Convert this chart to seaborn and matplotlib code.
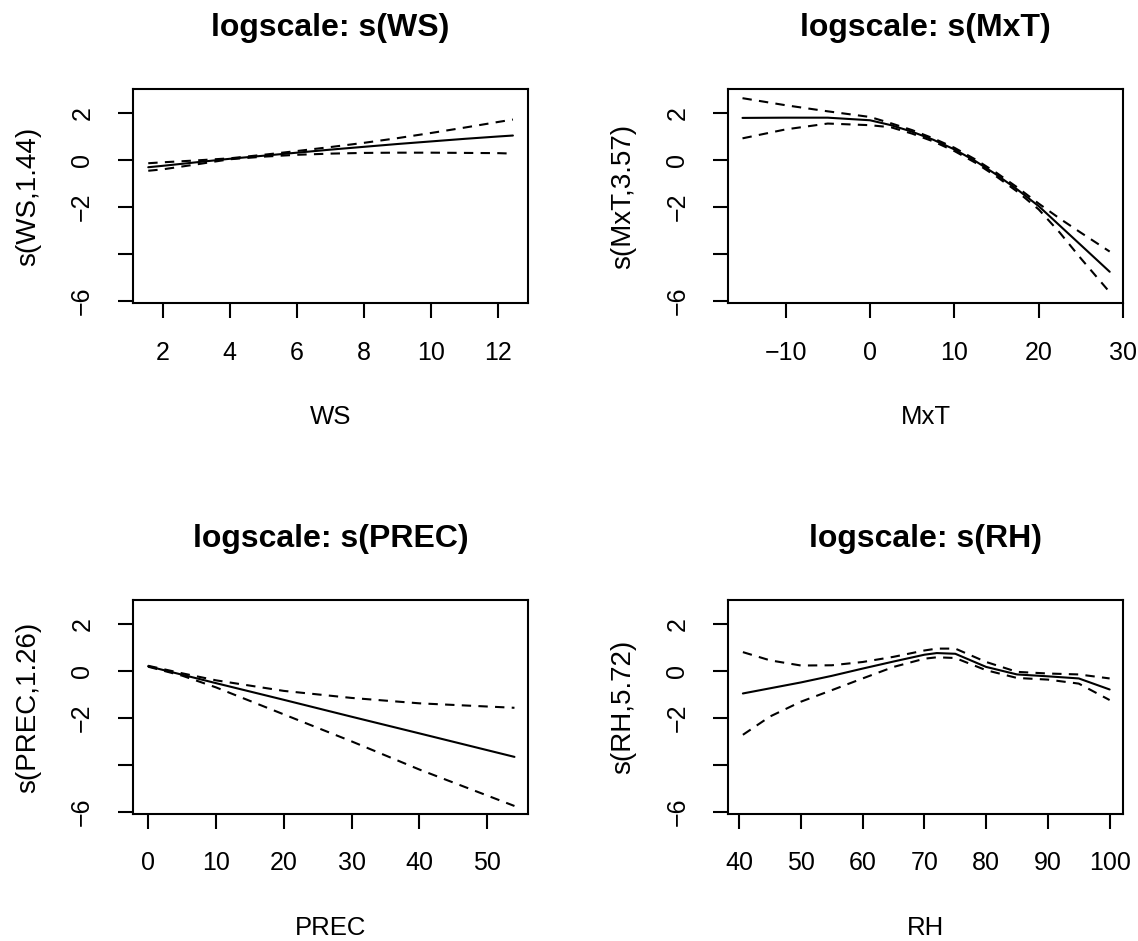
import numpy as np
import pandas as pd
import matplotlib
matplotlib.use("Agg")
import matplotlib.pyplot as plt
import seaborn as sns

# ---- data (fit, upper and lower 2-se bands) ----
WS_X = [1.57, 2, 3, 4, 5, 6, 7, 8, 9, 10, 11, 12, 12.43]
WS_FIT = [-0.31, -0.25, -0.10, 0.05, 0.18, 0.31, 0.44, 0.56, 0.68, 0.79, 0.90, 1.00, 1.04]
WS_UP = [-0.14, -0.10, -0.02, 0.07, 0.22, 0.38, 0.55, 0.73, 0.93, 1.15, 1.38, 1.62, 1.72]
WS_LO = [-0.46, -0.40, -0.19, 0.03, 0.14, 0.22, 0.27, 0.30, 0.31, 0.31, 0.30, 0.29, 0.27]

MXT_X = [-15.1, -10, -5, 0, 2.5, 5, 7.5, 10, 12.5, 15, 17.5, 20, 22.5, 25, 28.4]
MXT_FIT = [1.79, 1.80, 1.80, 1.69, 1.48, 1.20, 0.86, 0.45, -0.05, -0.63, -1.27, -1.97, -2.80, -3.63, -4.76]
MXT_UP = [2.63, 2.33, 2.07, 1.83, 1.56, 1.27, 0.92, 0.52, 0.02, -0.55, -1.18, -1.86, -2.50, -3.10, -3.90]
MXT_LO = [0.92, 1.30, 1.55, 1.48, 1.39, 1.12, 0.79, 0.38, -0.12, -0.71, -1.36, -2.11, -3.10, -4.20, -5.63]

PREC_X = [0, 5, 10, 20, 30, 40, 54]
PREC_FIT = [0.20, -0.16, -0.52, -1.23, -1.95, -2.66, -3.66]
PREC_UP = [0.22, -0.10, -0.40, -0.85, -1.15, -1.38, -1.57]
PREC_LO = [0.18, -0.20, -0.70, -1.85, -3.00, -4.20, -5.75]

RH_X = [40.6, 45, 50, 55, 60, 65, 70, 72, 75, 80, 85, 90, 95, 100]
RH_FIT = [-0.96, -0.74, -0.49, -0.21, 0.10, 0.40, 0.69, 0.76, 0.73, 0.17, -0.15, -0.23, -0.32, -0.79]
RH_UP = [0.80, 0.45, 0.23, 0.24, 0.38, 0.60, 0.87, 0.95, 0.95, 0.38, -0.04, -0.11, -0.15, -0.32]
RH_LO = [-2.72, -1.94, -1.31, -0.82, -0.32, 0.17, 0.52, 0.58, 0.55, 0.03, -0.30, -0.37, -0.54, -1.24]

PANELS = [
    ("WS", "s(WS,1.44)", WS_X, WS_FIT, WS_UP, WS_LO, [2, 4, 6, 8, 10, 12], (1.12, 12.88)),
    ("MxT", "s(MxT,3.57)", MXT_X, MXT_FIT, MXT_UP, MXT_LO, [-10, 0, 10, 20, 30], (-16.78, 30.0)),
    ("PREC", "s(PREC,1.26)", PREC_X, PREC_FIT, PREC_UP, PREC_LO, [0, 10, 20, 30, 40, 50], (-2.2, 56.0)),
    ("RH", "s(RH,5.72)", RH_X, RH_FIT, RH_UP, RH_LO, [40, 50, 60, 70, 80, 90, 100], (38.24, 102.2)),
]
Y_TICKS = [2, 0, -2, -4, -6]
Y_TICKLABELS = ["2", "0", "\u22122", "", "\u22126"]

# axes boxes in figure fractions (left, bottom, width, height)
BOXES = [
    (0.117, 0.678, 0.347, 0.2274),
    (0.640, 0.678, 0.347, 0.2274),
    (0.117, 0.135, 0.347, 0.2274),
    (0.640, 0.135, 0.347, 0.2274),
]

sns.set_style("ticks")
plt.rcParams["font.family"] = ["Liberation Sans", "DejaVu Sans"]
plt.rcParams["text.color"] = "black"
plt.rcParams["axes.labelcolor"] = "black"

fig = plt.figure(figsize=(11.38, 9.41), dpi=100)

for (name, ylab, xs, fit, up, lo, xticks, xlim), box in zip(PANELS, BOXES):
    ax = fig.add_axes(box)
    df = pd.DataFrame({
        "x": list(xs) * 3,
        "y": list(fit) + list(up) + list(lo),
        "kind": ["fit"] * len(xs) + ["upper"] * len(xs) + ["lower"] * len(xs),
    })
    sns.lineplot(
        data=df, x="x", y="y", style="kind", color="black", ax=ax,
        dashes={"fit": "", "upper": (4.5, 3.5), "lower": (4.5, 3.5)},
        linewidth=1.5, legend=False, estimator=None,
    )
    ax.set_xlim(*xlim)
    ax.set_ylim(-6.09, 3.02)
    ax.set_xticks(xticks)
    ax.set_yticks(Y_TICKS)
    ax.set_yticklabels(Y_TICKLABELS, rotation=90, va="center")
    for s in ax.spines.values():
        s.set_linewidth(1.5)
        s.set_color("black")
    ax.tick_params(axis="x", length=11, width=1.5, pad=16, labelsize=18, colors="black")
    ax.tick_params(axis="y", length=11, width=1.5, pad=17, labelsize=18, colors="black")
    ax.set_xlabel(name, fontsize=18.5, labelpad=29)
    ax.set_ylabel(ylab, fontsize=20, labelpad=21)
    ax.set_title(f"logscale: s({name})", fontsize=23, fontweight="bold", pad=38)

fig.savefig("out.png", dpi=100)
